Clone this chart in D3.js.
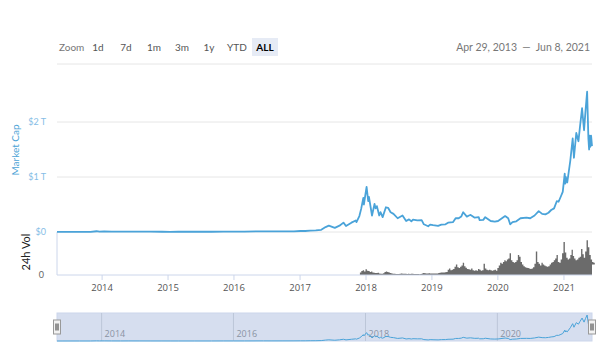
<!DOCTYPE html>
<html>
<head>
<meta charset="utf-8">
<script src="https://cdn.jsdelivr.net/npm/d3@7"></script>
<style>
  body { margin: 0; background: #fff; }
  svg text { font-family: Lato, "Open Sans", sans-serif; }
</style>
</head>
<body>
<div id="chart"></div>
<script>
// market cap, billions USD
var capDates = ["2013-04-29","2013-06-01","2013-09-01","2013-11-01","2013-12-04","2013-12-20","2014-01-15","2014-02-25","2014-04-15","2014-06-01","2014-08-01","2014-10-01","2014-12-01",
  "2015-01-15","2015-03-01","2015-06-01","2015-09-01","2015-11-05","2016-01-01","2016-03-01","2016-06-15","2016-08-01","2016-10-01","2016-12-01",
  "2017-01-05","2017-02-01","2017-03-01","2017-04-01","2017-05-01","2017-05-25","2017-06-12","2017-07-15","2017-08-10","2017-09-01","2017-09-15","2017-10-15","2017-11-08","2017-11-12","2017-11-28","2017-12-08","2017-12-20","2017-12-23",
  "2018-01-07","2018-01-16","2018-01-20","2018-02-06","2018-02-20","2018-02-26","2018-03-05","2018-03-18","2018-03-25","2018-04-06","2018-04-24","2018-05-06","2018-05-20","2018-06-05","2018-06-28","2018-07-25","2018-08-14","2018-08-30","2018-09-12","2018-09-21","2018-10-15","2018-11-08","2018-11-20","2018-12-14","2018-12-25",
  "2019-01-10","2019-02-07","2019-02-25","2019-03-20","2019-04-03","2019-05-01","2019-05-15","2019-06-01","2019-06-15","2019-06-26","2019-07-16","2019-07-28","2019-08-06","2019-08-29","2019-09-20","2019-09-25","2019-10-15","2019-10-26","2019-11-25","2019-12-18",
  "2020-01-05","2020-02-13","2020-03-01","2020-03-12","2020-03-25","2020-04-15","2020-05-08","2020-06-10","2020-07-01","2020-07-25","2020-08-17","2020-09-05","2020-09-23","2020-10-10","2020-10-25","2020-11-10","2020-11-25","2020-12-05","2020-12-18","2020-12-28",
  "2021-01-08","2021-01-11","2021-01-14","2021-01-22","2021-02-08","2021-02-21","2021-02-28","2021-03-13","2021-03-25","2021-04-02","2021-04-14","2021-04-25","2021-05-03","2021-05-12","2021-05-19","2021-05-23","2021-05-26","2021-05-30","2021-06-03","2021-06-08"];
var capValues = [1.5,1.2,1.6,3,14,8,11,7,6,8.5,7.5,5,5,
  3.5,4.5,4.5,4.5,7,7,7.5,12,10,11,13,
  18,18,25,28,40,90,115,75,115,170,110,170,210,180,290,420,620,500,
  820,560,640,300,510,430,470,300,360,270,450,440,360,330,250,300,200,230,195,225,210,215,140,105,135,
  125,110,135,140,170,180,250,250,280,360,280,300,310,260,270,215,220,270,200,190,
  200,290,250,140,180,195,250,260,250,300,380,330,320,350,400,430,560,550,650,730,
  1060,880,1000,900,1300,1700,1350,1800,1650,1900,2250,1850,2200,2550,1700,1500,1750,1550,1750,1560];

// 24h volume, billions USD, four bars per month
var volMonths = ["2017-12","2018-01","2018-02","2018-03","2018-04","2018-05","2018-06","2018-07","2018-08","2018-09","2018-10","2018-11","2018-12",
  "2019-01","2019-02","2019-03","2019-04","2019-05","2019-06","2019-07","2019-08","2019-09","2019-10","2019-11","2019-12",
  "2020-01","2020-02","2020-03","2020-04","2020-05","2020-06","2020-07","2020-08","2020-09","2020-10","2020-11","2020-12",
  "2021-01","2021-02","2021-03","2021-04","2021-05","2021-06"];
var volValues = [[30,45,55,40],[65,50,45,35],[40,30,25,22],[22,25,18,15],[15,20,35,40],[35,30,22,18],[15,14,12,12],[12,14,16,15],[14,13,12,14],[12,14,13,12],[11,12,11,10],[12,18,22,20],[16,18,20,18],
  [17,16,18,17],[18,22,25,30],[30,28,32,35],[60,75,55,60],[70,95,120,90],[80,95,110,140],[100,85,70,65],[60,75,55,50],[55,50,70,60],[50,55,130,75],[60,55,60,55],[50,55,60,50],
  [80,110,140,130],[150,170,160,180],[190,250,170,150],[140,150,170,230],[210,150,120,100],[90,85,80,75],[70,75,90,130],[270,150,130,110],[140,120,110,100],[95,100,120,140],[150,170,190,230],[150,140,180,250],
  [380,260,200,180],[190,230,290,220],[190,170,180,200],[210,300,240,200],[270,400,320,230],[180,150,140,120]];

var capTicks = [0, 1000, 2000];
var capTickLabels = ["$0", "$1 T", "$2 T"];
var yearTicks = [2014, 2015, 2016, 2017, 2018, 2019, 2020, 2021];
var navYears = [2014, 2016, 2018, 2020];
var zoomButtons = ["1d", "7d", "1m", "3m", "1y", "YTD", "ALL"];
var rangeText = "Apr 29, 2013  \u2014  Jun 8, 2021";

var parse = d3.timeParse("%Y-%m-%d");
var capData = capDates.map((d, i) => ({ date: parse(d), value: capValues[i] }));
var startDate = parse("2013-04-29"), endDate = parse("2021-06-08");

// step points for the volume histogram
var volData = [];
volMonths.forEach((m, i) => {
  var start = parse(m + "-01");
  var end = d3.timeMonth.offset(start, 1);
  var step = (end - start) / 4;
  volValues[i].forEach((v, j) => {
    volData.push({ date: new Date(+start + step * j), value: v });
  });
});
volData.push({ date: endDate, value: volData[volData.length - 1].value });

var width = 600, height = 353;
var left = 57, right = 592;

var svg = d3.select("#chart").append("svg")
  .attr("width", width)
  .attr("height", height);

var x = d3.scaleTime()
  .domain([startDate, endDate])
  .range([left, right]);

var y = d3.scaleLinear()
  .domain([0, 2000])
  .range([232, 122]);

var yVol = d3.scaleLinear()
  .domain([0, 450])
  .range([275, 236]);

// toolbar
var bar = svg.append("g").attr("font-size", 10);
bar.append("text").attr("x", 59).attr("y", 51).attr("fill", "#777").text("Zoom");
var btnX = [98, 126, 154, 182, 209, 237, 265];
bar.append("rect").attr("x", 252).attr("y", 38).attr("width", 26).attr("height", 18)
  .attr("fill", "#e6ebf5");
zoomButtons.forEach((b, i) => {
  bar.append("text")
    .attr("x", btnX[i]).attr("y", 51)
    .attr("text-anchor", "middle")
    .attr("fill", b === "ALL" ? "#000" : "#555")
    .attr("font-weight", b === "ALL" ? "bold" : "normal")
    .text(b);
});
bar.append("text").attr("x", 590).attr("y", 51).attr("text-anchor", "end")
  .attr("font-size", 10.5)
  .attr("fill", "#777").style("white-space", "pre").text(rangeText);
svg.append("line").attr("x1", left).attr("x2", right).attr("y1", 64).attr("y2", 64)
  .attr("stroke", "#e6e6e6");

// grid + left axis
svg.append("g")
  .selectAll("line")
  .data(capTicks)
  .enter().append("line")
  .attr("x1", left).attr("x2", right)
  .attr("y1", d => y(d)).attr("y2", d => y(d))
  .attr("stroke", "#e6e6e6");

svg.append("g")
  .selectAll("text")
  .data(capTicks)
  .enter().append("text")
  .attr("x", 46)
  .attr("y", d => y(d) + 3)
  .attr("text-anchor", "end")
  .attr("font-size", 9)
  .attr("fill", "#86bde6")
  .text((d, i) => capTickLabels[i]);

svg.append("text")
  .attr("transform", "translate(19,150) rotate(-90)")
  .attr("text-anchor", "middle")
  .attr("font-size", 10)
  .attr("fill", "#4ba3d6")
  .text("Market Cap");

svg.append("text")
  .attr("transform", "translate(30,252) rotate(-90)")
  .attr("text-anchor", "middle")
  .attr("font-size", 11)
  .attr("fill", "#222")
  .text("24h Vol");

svg.append("text").attr("x", 44).attr("y", 278).attr("text-anchor", "end")
  .attr("font-size", 9).attr("fill", "#666").text("0");

// volume histogram
svg.append("path")
  .datum(volData)
  .attr("fill", "#6b6b6b")
  .attr("d", d3.area()
    .curve(d3.curveStepAfter)
    .x(d => x(d.date))
    .y0(yVol(0))
    .y1(d => yVol(d.value)));

// axis lines
svg.append("line").attr("x1", left).attr("x2", left).attr("y1", 232).attr("y2", 275)
  .attr("stroke", "#ccd6eb");

var xAxis = svg.append("g")
  .attr("transform", "translate(0,275)")
  .call(d3.axisBottom(x)
    .tickValues(yearTicks.map(yr => new Date(yr, 0, 1)))
    .tickFormat(d3.timeFormat("%Y"))
    .tickSize(5)
    .tickPadding(4));
xAxis.select(".domain").attr("stroke", "#ccd6eb").attr("d", "M" + left + ",0H" + right);
xAxis.selectAll(".tick line").attr("stroke", "#ccd6eb");
xAxis.selectAll(".tick text").attr("fill", "#555").attr("font-size", 9.5)
  .style("font-family", "'Open Sans', sans-serif");

// market cap line
var line = d3.line()
  .x(d => x(d.date))
  .y(d => y(d.value));

svg.append("path")
  .datum(capData)
  .attr("fill", "none")
  .attr("stroke", "#4aa3d9")
  .attr("stroke-width", 1.8)
  .attr("stroke-linejoin", "round")
  .attr("d", line);

// navigator
var navTop = 313, navBottom = 341;
var yNav = d3.scaleLinear()
  .domain([0, d3.max(capValues)])
  .range([navBottom, navTop + 2]);

svg.append("rect")
  .attr("x", left).attr("y", navTop)
  .attr("width", right - left).attr("height", navBottom - navTop)
  .attr("fill", "#d6deef")
  .attr("stroke", "#ccd6eb");

svg.append("g")
  .selectAll("line")
  .data(navYears)
  .enter().append("line")
  .attr("x1", d => x(new Date(d, 0, 1))).attr("x2", d => x(new Date(d, 0, 1)))
  .attr("y1", navTop).attr("y2", navBottom)
  .attr("stroke", "#bcc6d8");

svg.append("g")
  .selectAll("text")
  .data(navYears)
  .enter().append("text")
  .attr("x", d => x(new Date(d, 0, 1)) + 3)
  .attr("y", navBottom - 4)
  .attr("font-size", 9)
  .attr("fill", "#8a93a3")
  .style("font-family", "'Open Sans', sans-serif")
  .text(d => d);

svg.append("path")
  .datum(capData)
  .attr("fill", "none")
  .attr("stroke", "#4aa3d9")
  .attr("stroke-width", 1)
  .attr("d", d3.line().x(d => x(d.date)).y(d => yNav(d.value)));

// handles
[left, right].forEach(hx => {
  var h = svg.append("g").attr("transform", "translate(" + hx + ",327)");
  h.append("rect").attr("x", -3.5).attr("y", -7).attr("width", 7).attr("height", 14)
    .attr("fill", "#f2f2f2").attr("stroke", "#999");
  h.append("line").attr("x1", -1).attr("x2", -1).attr("y1", -3.5).attr("y2", 3.5).attr("stroke", "#333");
  h.append("line").attr("x1", 1).attr("x2", 1).attr("y1", -3.5).attr("y2", 3.5).attr("stroke", "#333");
});
</script>
</body>
</html>
